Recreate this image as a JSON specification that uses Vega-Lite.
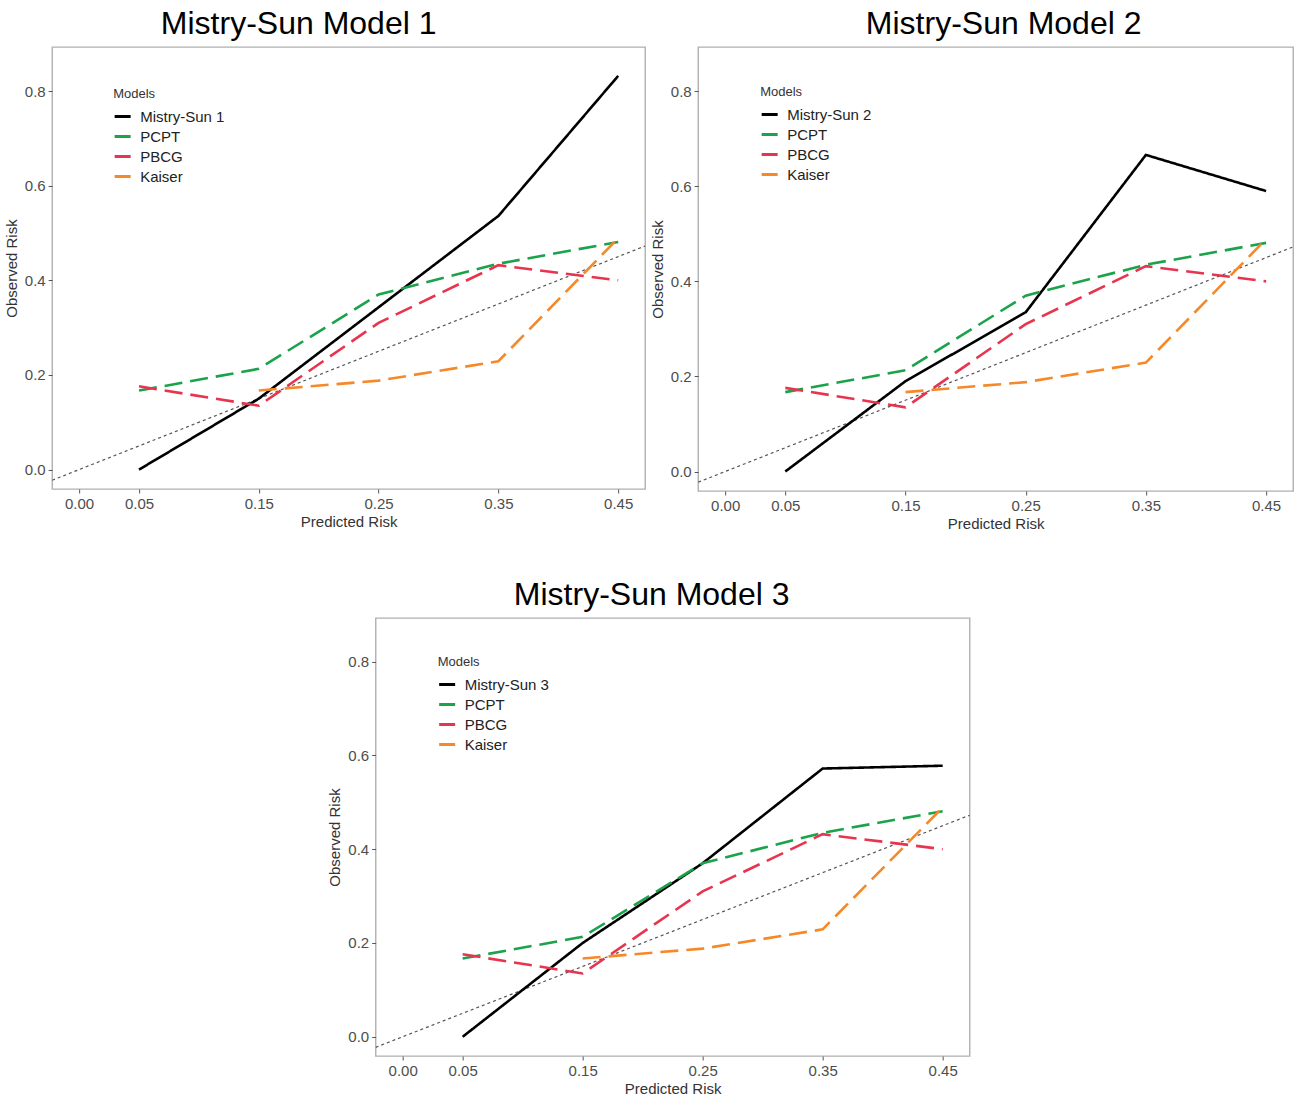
{
  "$schema": "https://vega.github.io/schema/vega-lite/v6.json",
  "padding": {"left": 3, "top": 7, "right": 5, "bottom": 0},
  "background": "white",
  "datasets": {
    "curves": [
      {"panel": 1, "model": "Mistry-Sun 1", "predicted": 0.05, "observed": 0.0},
      {"panel": 1, "model": "Mistry-Sun 1", "predicted": 0.15, "observed": 0.15},
      {"panel": 1, "model": "Mistry-Sun 1", "predicted": 0.25, "observed": 0.343},
      {"panel": 1, "model": "Mistry-Sun 1", "predicted": 0.35, "observed": 0.536},
      {"panel": 1, "model": "Mistry-Sun 1", "predicted": 0.45, "observed": 0.832},
      {"panel": 1, "model": "PCPT", "predicted": 0.05, "observed": 0.167},
      {"panel": 1, "model": "PCPT", "predicted": 0.15, "observed": 0.213},
      {"panel": 1, "model": "PCPT", "predicted": 0.25, "observed": 0.37},
      {"panel": 1, "model": "PCPT", "predicted": 0.35, "observed": 0.435},
      {"panel": 1, "model": "PCPT", "predicted": 0.45, "observed": 0.481},
      {"panel": 1, "model": "PBCG", "predicted": 0.05, "observed": 0.176},
      {"panel": 1, "model": "PBCG", "predicted": 0.15, "observed": 0.135},
      {"panel": 1, "model": "PBCG", "predicted": 0.25, "observed": 0.31},
      {"panel": 1, "model": "PBCG", "predicted": 0.35, "observed": 0.432},
      {"panel": 1, "model": "PBCG", "predicted": 0.45, "observed": 0.4},
      {"panel": 1, "model": "Kaiser", "predicted": 0.15, "observed": 0.167},
      {"panel": 1, "model": "Kaiser", "predicted": 0.25, "observed": 0.188},
      {"panel": 1, "model": "Kaiser", "predicted": 0.35, "observed": 0.229},
      {"panel": 1, "model": "Kaiser", "predicted": 0.45, "observed": 0.489},
      {"panel": 2, "model": "Mistry-Sun 2", "predicted": 0.05, "observed": 0.0},
      {"panel": 2, "model": "Mistry-Sun 2", "predicted": 0.15, "observed": 0.19},
      {"panel": 2, "model": "Mistry-Sun 2", "predicted": 0.25, "observed": 0.335},
      {"panel": 2, "model": "Mistry-Sun 2", "predicted": 0.35, "observed": 0.666},
      {"panel": 2, "model": "Mistry-Sun 2", "predicted": 0.45, "observed": 0.59},
      {"panel": 2, "model": "PCPT", "predicted": 0.05, "observed": 0.167},
      {"panel": 2, "model": "PCPT", "predicted": 0.15, "observed": 0.213},
      {"panel": 2, "model": "PCPT", "predicted": 0.25, "observed": 0.37},
      {"panel": 2, "model": "PCPT", "predicted": 0.35, "observed": 0.435},
      {"panel": 2, "model": "PCPT", "predicted": 0.45, "observed": 0.481},
      {"panel": 2, "model": "PBCG", "predicted": 0.05, "observed": 0.176},
      {"panel": 2, "model": "PBCG", "predicted": 0.15, "observed": 0.135},
      {"panel": 2, "model": "PBCG", "predicted": 0.25, "observed": 0.31},
      {"panel": 2, "model": "PBCG", "predicted": 0.35, "observed": 0.432},
      {"panel": 2, "model": "PBCG", "predicted": 0.45, "observed": 0.4},
      {"panel": 2, "model": "Kaiser", "predicted": 0.15, "observed": 0.167},
      {"panel": 2, "model": "Kaiser", "predicted": 0.25, "observed": 0.188},
      {"panel": 2, "model": "Kaiser", "predicted": 0.35, "observed": 0.229},
      {"panel": 2, "model": "Kaiser", "predicted": 0.45, "observed": 0.489},
      {"panel": 3, "model": "Mistry-Sun 3", "predicted": 0.05, "observed": 0.0},
      {"panel": 3, "model": "Mistry-Sun 3", "predicted": 0.15, "observed": 0.2},
      {"panel": 3, "model": "Mistry-Sun 3", "predicted": 0.25, "observed": 0.37},
      {"panel": 3, "model": "Mistry-Sun 3", "predicted": 0.35, "observed": 0.572},
      {"panel": 3, "model": "Mistry-Sun 3", "predicted": 0.45, "observed": 0.578},
      {"panel": 3, "model": "PCPT", "predicted": 0.05, "observed": 0.167},
      {"panel": 3, "model": "PCPT", "predicted": 0.15, "observed": 0.213},
      {"panel": 3, "model": "PCPT", "predicted": 0.25, "observed": 0.37},
      {"panel": 3, "model": "PCPT", "predicted": 0.35, "observed": 0.435},
      {"panel": 3, "model": "PCPT", "predicted": 0.45, "observed": 0.481},
      {"panel": 3, "model": "PBCG", "predicted": 0.05, "observed": 0.176},
      {"panel": 3, "model": "PBCG", "predicted": 0.15, "observed": 0.135},
      {"panel": 3, "model": "PBCG", "predicted": 0.25, "observed": 0.31},
      {"panel": 3, "model": "PBCG", "predicted": 0.35, "observed": 0.432},
      {"panel": 3, "model": "PBCG", "predicted": 0.45, "observed": 0.4},
      {"panel": 3, "model": "Kaiser", "predicted": 0.15, "observed": 0.167},
      {"panel": 3, "model": "Kaiser", "predicted": 0.25, "observed": 0.188},
      {"panel": 3, "model": "Kaiser", "predicted": 0.35, "observed": 0.229},
      {"panel": 3, "model": "Kaiser", "predicted": 0.45, "observed": 0.489}
    ],
    "diagonal": [
      {"predicted": -0.0225, "observed": -0.0225},
      {"predicted": 0.4725, "observed": 0.4725}
    ]
  },
  "vconcat": [
    {
      "hconcat": [
        {
          "title": {"text": "Mistry-Sun Model 1", "dx": -50},
          "width": 593,
          "height": 442,
          "layer": [
            {
              "data": {"name": "diagonal"},
              "mark": {"type": "line", "color": "#555555", "strokeDash": [3, 3], "strokeWidth": 1.2, "clip": true},
              "encoding": {
                "x": {"field": "predicted", "type": "quantitative", "scale": {"domain": [-0.0225, 0.4725], "nice": false, "zero": false}},
                "y": {"field": "observed", "type": "quantitative", "scale": {"domain": [-0.041, 0.893], "nice": false, "zero": false}}
              }
            },
            {
              "data": {"name": "curves"},
              "transform": [{"filter": "datum.panel == 1"}],
              "mark": {"type": "line", "strokeWidth": 2.6},
              "encoding": {
                "x": {"field": "predicted", "type": "quantitative", "title": "Predicted Risk", "scale": {"domain": [-0.0225, 0.4725], "nice": false, "zero": false}, "axis": {"values": [0, 0.05, 0.15, 0.25, 0.35, 0.45], "format": ".2f"}},
                "y": {"field": "observed", "type": "quantitative", "title": "Observed Risk", "scale": {"domain": [-0.041, 0.893], "nice": false, "zero": false}, "axis": {"values": [0, 0.2, 0.4, 0.6, 0.8], "format": ".1f"}},
                "color": {"field": "model", "type": "nominal", "title": "Models", "scale": {"domain": ["Mistry-Sun 1", "PCPT", "PBCG", "Kaiser"], "range": ["#000000", "#1aa34a", "#e8344e", "#f5892a"]}, "legend": {"orient": "none", "legendX": 61, "legendY": 41}},
                "strokeDash": {"field": "model", "type": "nominal", "title": "Models", "scale": {"domain": ["Mistry-Sun 1", "PCPT", "PBCG", "Kaiser"], "range": [[1, 0], [18, 8], [18, 8], [18, 8]]}, "legend": {"orient": "none", "legendX": 61, "legendY": 41}},
                "order": {"field": "predicted", "type": "quantitative"}
              }
            }
          ]
        },
        {
          "title": {"text": "Mistry-Sun Model 2", "dx": 8},
          "width": 595,
          "height": 444,
          "layer": [
            {
              "data": {"name": "diagonal"},
              "mark": {"type": "line", "color": "#555555", "strokeDash": [3, 3], "strokeWidth": 1.2, "clip": true},
              "encoding": {
                "x": {"field": "predicted", "type": "quantitative", "scale": {"domain": [-0.0225, 0.4725], "nice": false, "zero": false}},
                "y": {"field": "observed", "type": "quantitative", "scale": {"domain": [-0.041, 0.893], "nice": false, "zero": false}}
              }
            },
            {
              "data": {"name": "curves"},
              "transform": [{"filter": "datum.panel == 2"}],
              "mark": {"type": "line", "strokeWidth": 2.6},
              "encoding": {
                "x": {"field": "predicted", "type": "quantitative", "title": "Predicted Risk", "scale": {"domain": [-0.0225, 0.4725], "nice": false, "zero": false}, "axis": {"values": [0, 0.05, 0.15, 0.25, 0.35, 0.45], "format": ".2f"}},
                "y": {"field": "observed", "type": "quantitative", "title": "Observed Risk", "scale": {"domain": [-0.041, 0.893], "nice": false, "zero": false}, "axis": {"values": [0, 0.2, 0.4, 0.6, 0.8], "format": ".1f"}},
                "color": {"field": "model", "type": "nominal", "title": "Models", "scale": {"domain": ["Mistry-Sun 2", "PCPT", "PBCG", "Kaiser"], "range": ["#000000", "#1aa34a", "#e8344e", "#f5892a"]}, "legend": {"orient": "none", "legendX": 62, "legendY": 39}},
                "strokeDash": {"field": "model", "type": "nominal", "title": "Models", "scale": {"domain": ["Mistry-Sun 2", "PCPT", "PBCG", "Kaiser"], "range": [[1, 0], [18, 8], [18, 8], [18, 8]]}, "legend": {"orient": "none", "legendX": 62, "legendY": 39}},
                "order": {"field": "predicted", "type": "quantitative"}
              }
            }
          ]
        }
      ],
      "spacing": 3,
      "resolve": {"scale": {"color": "independent", "strokeDash": "independent"}, "legend": {"color": "independent", "strokeDash": "independent"}}
    },
    {
      "title": {"text": "Mistry-Sun Model 3", "dx": -21},
      "width": 594,
      "height": 438,
      "layer": [
        {
          "data": {"name": "diagonal"},
          "mark": {"type": "line", "color": "#555555", "strokeDash": [3, 3], "strokeWidth": 1.2, "clip": true},
          "encoding": {
            "x": {"field": "predicted", "type": "quantitative", "scale": {"domain": [-0.0225, 0.4725], "nice": false, "zero": false}},
            "y": {"field": "observed", "type": "quantitative", "scale": {"domain": [-0.041, 0.893], "nice": false, "zero": false}}
          }
        },
        {
          "data": {"name": "curves"},
          "transform": [{"filter": "datum.panel == 3"}],
          "mark": {"type": "line", "strokeWidth": 2.6},
          "encoding": {
            "x": {"field": "predicted", "type": "quantitative", "title": "Predicted Risk", "scale": {"domain": [-0.0225, 0.4725], "nice": false, "zero": false}, "axis": {"values": [0, 0.05, 0.15, 0.25, 0.35, 0.45], "format": ".2f"}},
            "y": {"field": "observed", "type": "quantitative", "title": "Observed Risk", "scale": {"domain": [-0.041, 0.893], "nice": false, "zero": false}, "axis": {"values": [0, 0.2, 0.4, 0.6, 0.8], "format": ".1f"}},
            "color": {"field": "model", "type": "nominal", "title": "Models", "scale": {"domain": ["Mistry-Sun 3", "PCPT", "PBCG", "Kaiser"], "range": ["#000000", "#1aa34a", "#e8344e", "#f5892a"]}, "legend": {"orient": "none", "legendX": 62, "legendY": 38}},
            "strokeDash": {"field": "model", "type": "nominal", "title": "Models", "scale": {"domain": ["Mistry-Sun 3", "PCPT", "PBCG", "Kaiser"], "range": [[1, 0], [18, 8], [18, 8], [18, 8]]}, "legend": {"orient": "none", "legendX": 62, "legendY": 38}},
            "order": {"field": "predicted", "type": "quantitative"}
          }
        }
      ]
    }
  ],
  "spacing": 46,
  "center": true,
  "resolve": {"scale": {"color": "independent", "strokeDash": "independent"}, "legend": {"color": "independent", "strokeDash": "independent"}},
  "config": {
    "font": "Liberation Sans",
    "view": {"stroke": "#b0b0b0", "strokeWidth": 1.4},
    "title": {"fontSize": 32, "fontWeight": "normal", "color": "#000000", "anchor": "middle", "offset": 6, "frame": "group"},
    "axis": {
      "grid": false,
      "domain": false,
      "tickColor": "#555555",
      "tickSize": 4,
      "labelFontSize": 15,
      "labelColor": "#4d4d4d",
      "labelPadding": 3,
      "titleFontSize": 15,
      "titleFontWeight": "normal",
      "titleColor": "#333333"
    },
    "axisX": {"titlePadding": 3},
    "axisY": {"titlePadding": 5},
    "legend": {
      "titleFontSize": 13,
      "titleFontWeight": "normal",
      "titleColor": "#333333",
      "labelFontSize": 15,
      "labelColor": "#222222",
      "labelOffset": 8,
      "symbolType": "stroke",
      "symbolStrokeWidth": 3,
      "symbolSize": 256,
      "rowPadding": 2,
      "titlePadding": 6
    }
  }
}
